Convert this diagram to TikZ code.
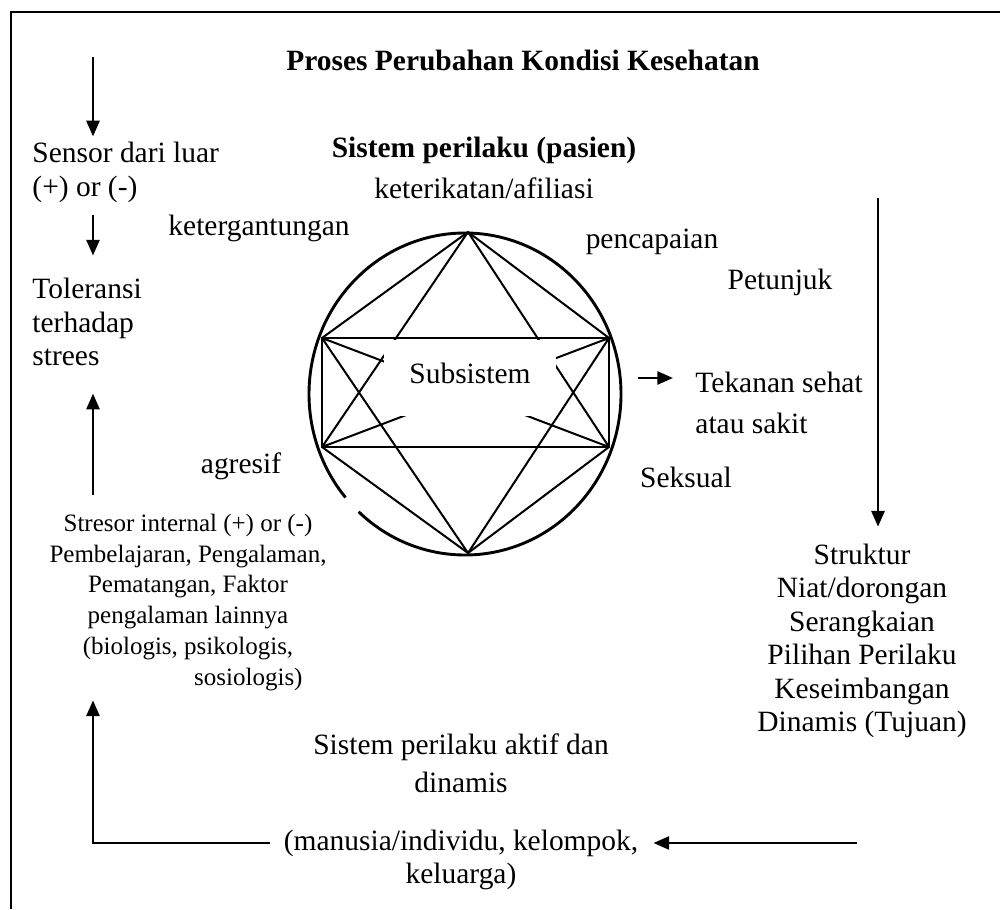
\documentclass[tikz,border=0pt]{standalone}
\usepackage{fontspec}
\setmainfont{Liberation Serif}
\usetikzlibrary{arrows.meta,positioning}
\begin{document}
\begin{tikzpicture}[x=0.448pt,y=0.448pt,
  teks/.style={font=\fontsize{13.2}{15}\selectfont,inner sep=0pt},
  tebal/.style={teks,font=\fontsize{13.2}{15}\selectfont\bfseries},
  kecil/.style={teks,font=\fontsize{11.2}{13.75}\selectfont},
  pfeil/.style={-{Triangle[length=7pt,width=6pt]},line width=0.7pt},
  garis/.style={line width=0.9pt},
  node distance=15pt]
\useasboundingbox (0,0) rectangle (1000,909);
\draw[line width=1.3pt](11,0) |- (1000,897);
\node[tebal](JUDUL) at (523,849){Proses Perubahan Kondisi Kesehatan};
% kolom kiri
\node[teks,anchor=west](SENSOR) at (32,757){Sensor dari luar};
\node[teks,anchor=west](PM) at (32,720){(+) or (-)};
\node[teks,anchor=west,align=left](TOLERANSI) at (32,587){Toleransi\\terhadap\\strees};
\node[kecil,align=center](STRESOR) at (188,322){Stresor internal (+) or (-)\\Pembelajaran, Pengalaman,\\Pematangan, Faktor\\pengalaman lainnya\\(biologis, psikologis,};
\node[kecil,anchor=east](SOSIO) at (303,229){sosiologis)};
\coordinate (LX) at (93,0);
\coordinate (MASUK) at (93,852);
\draw[pfeil,shorten >=2.2pt](MASUK) -- (MASUK |- SENSOR.north);
\draw[pfeil,shorten <=5.6pt,shorten >=10pt](PM.south -| LX) -- (TOLERANSI.north -| LX);
\draw[pfeil,shorten <=8.6pt,shorten >=12.3pt](STRESOR.north -| LX) -- (TOLERANSI.south -| LX);
% bawah
\node[teks](AKTIF) at (461,162){Sistem perilaku aktif dan};
\node[teks,below of=AKTIF,yshift=-0.7pt](DINAMIS){dinamis};
\node[teks](MANUSIA) at (461,66){(manusia/individu, kelompok,};
\node[teks,below of=MANUSIA](KELUARGA){keluarga)};
\coordinate (KANAN) at (857,66);
\draw[pfeil,shorten >=6.7pt](KANAN) -- (MANUSIA.east);
\draw[pfeil,shorten <=5.8pt,shorten >=3.9pt](MANUSIA.west) -- (LX |- MANUSIA.west) -- (SOSIO.south -| LX);
% kolom kanan
\node[teks,align=center](TUJUAN) at (862,268){Struktur\\Niat/dorongan\\Serangkaian\\Pilihan Perilaku\\Keseimbangan\\Dinamis (Tujuan)};
\coordinate (PETUNJUKATAS) at (878,711);
\draw[pfeil,shorten >=7.6pt](PETUNJUKATAS) -- (PETUNJUKATAS |- TUJUAN.north);
\node[teks](PETUNJUK) at (780,627){Petunjuk};
% tengah
\node[tebal](PASIEN) at (484,759){Sistem perilaku (pasien)};
\node[teks,below of=PASIEN,yshift=-2pt](AFILIASI){keterikatan/afiliasi};
\node[teks](KETERGANTUNGAN) at (259,681){ketergantungan};
\node[teks](PENCAPAIAN) at (652,667){pencapaian};
\node[teks](AGRESIF) at (241,443){agresif};
\node[teks](SEKSUAL) at (686,432){Seksual};
\node[teks,anchor=west,align=left,font=\fontsize{13.2}{18}\selectfont](TEKANAN) at (695,506){Tekanan sehat\\atau sakit};
\coordinate (TEKAN) at (638,531);
\draw[pfeil,shorten >=9.9pt](TEKAN) -- (TEKAN -| TEKANAN.west);
\coordinate (ATAS) at (468,677);
\coordinate (KIRIATAS) at (322,571);
\coordinate (KANANATAS) at (609,571);
\coordinate (KIRIBAWAH) at (322,462);
\coordinate (KANANBAWAH) at (609,462);
\coordinate (BAWAH) at (468,356);
\draw[line width=1.3pt](465,515) ++(227:156 and 161) arc[start angle=227,end angle=580,x radius=156,y radius=161];
\draw[garis](ATAS)--(KIRIBAWAH) (ATAS)--(KANANBAWAH) (KIRIATAS)--(KANANBAWAH) (KIRIBAWAH)--(KANANATAS) (BAWAH)--(KIRIATAS) (BAWAH)--(KANANATAS);
\node[teks,fill=white,minimum width=77pt,minimum height=34pt,text height=9pt,text depth=4.4pt](SUB) at (470,531){Subsistem};
\draw[garis](KIRIATAS)--(KANANATAS)--(KANANBAWAH)--(KIRIBAWAH)--cycle;
\draw[garis](KIRIATAS)--(ATAS)--(KANANATAS) (KIRIBAWAH)--(BAWAH)--(KANANBAWAH);
\end{tikzpicture}
\end{document}
